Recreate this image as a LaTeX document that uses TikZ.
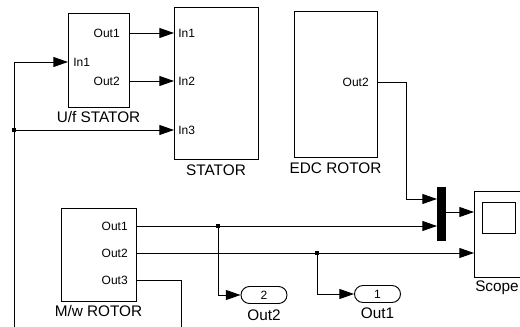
\documentclass[tikz,border=0pt]{standalone}
\usepackage{fontspec}
\setmainfont{Liberation Sans}
\usetikzlibrary{arrows.meta,positioning,shapes.misc}

\tikzset{
  blockbox/.style={draw, line width=0.7pt, inner sep=0pt},
  portlabel/.style={font=\fontsize{9}{10}\selectfont, inner sep=0pt},
  blocklabel/.style={font=\fontsize{11.5}{12}\selectfont, inner sep=0pt},
  termbox/.style={draw, line width=0.7pt, rounded rectangle, inner sep=0pt,
    minimum width=46*0.75pt, minimum height=17*0.75pt, font=\fontsize{9}{10}\selectfont},
  sig/.style={line width=0.7pt, -{Triangle[length=11pt,width=7.5pt]}},
  wire/.style={line width=0.7pt},
  tap/.style={fill, inner sep=0pt, minimum size=2.6pt}
}

\begin{document}
\begin{tikzpicture}[x=0.75pt,y=-0.75pt]
  \useasboundingbox (0,0) rectangle (520,327);

  % Blocks
  \node[blockbox, minimum width=61*0.75pt, minimum height=94*0.75pt] (uf) at (98.5,60) {};
  \node[blockbox, minimum width=84*0.75pt, minimum height=152*0.75pt] (stator) at (216,83) {};
  \node[blockbox, minimum width=83*0.75pt, minimum height=146*0.75pt] (edc) at (335.5,84) {};
  \node[blockbox, minimum width=75*0.75pt, minimum height=93*0.75pt] (mw) at (98.5,254.5) {};
  \node[blockbox, fill=black, minimum width=8*0.75pt, minimum height=53*0.75pt] (mux) at (441,213.5) {};
  \node[blockbox, minimum width=49*0.75pt, minimum height=86*0.75pt] (scope) at (498.5,234) {};
  \node[blockbox, minimum width=33*0.75pt, minimum height=31*0.75pt] (screen) at (498.5,217.5) {};
  \node[termbox] (term2) at (264,295) {2};
  \node[termbox] (term1) at (377.5,294) {1};

  % Block names
  \node[blocklabel] (uf-name) at (98.5,117) {U/f STATOR};
  \node[blocklabel] (stator-name) at (216,170.5) {STATOR};
  \node[blocklabel] (edc-name) at (335.5,168) {EDC ROTOR};
  \node[blocklabel] (mw-name) at (98.5,311) {M/w ROTOR};
  \node[blocklabel] (scope-name) at (497,288) {Scope};
  \node[blocklabel] (term2-name) at (264,315) {Out2};
  \node[blocklabel] (term1-name) at (377.5,313.5) {Out1};

  % Port labels
  \node[portlabel, anchor=west] (uf-in1-txt) at (73,62) {In1};
  \node[portlabel, anchor=east] (uf-o1-txt) at (120,33) {Out1};
  \node[portlabel, anchor=east] (uf-o2-txt) at (120,81) {Out2};
  \node[portlabel, anchor=west] (st-i1-txt) at (178,33) {In1};
  \node[portlabel, anchor=west] (st-i2-txt) at (178,81) {In2};
  \node[portlabel, anchor=west] (st-i3-txt) at (178,130) {In3};
  \node[portlabel, anchor=east] (edc-o2-txt) at (369,82) {Out2};
  \node[portlabel, anchor=east] (mw-o1-txt) at (128,226) {Out1};
  \node[portlabel, anchor=east] (mw-o2-txt) at (128,253) {Out2};
  \node[portlabel, anchor=east] (mw-o3-txt) at (128,280) {Out3};

  % Ports and bends
  \coordinate (uf-in1) at (68,62);
  \coordinate (uf-o1) at (129,33);
  \coordinate (uf-o2) at (129,81);
  \coordinate (st-i1) at (174,33);
  \coordinate (st-i2) at (174,81);
  \coordinate (st-i3) at (174,130);
  \coordinate (edc-o2) at (377,82);
  \coordinate (edc-bend) at (406,82);
  \coordinate (mux-i1) at (437,199);
  \coordinate (mux-i2) at (437,226);
  \coordinate (mux-o) at (445,212);
  \coordinate (scope-i1) at (474,212);
  \coordinate (scope-i2) at (474,253);
  \coordinate (mw-o1) at (136,226);
  \coordinate (mw-o2) at (136,253);
  \coordinate (mw-o3) at (136,280);
  \coordinate (mw-bend) at (181,280);
  \coordinate (left-top) at (14,62);
  \coordinate (left-bot) at (14,327);
  \coordinate (o3-bot) at (181,327);
  \node[tap] (tap-left) at (14,130) {};
  \node[tap] (tap-o1) at (218,226) {};
  \node[tap] (tap-o2) at (317,253) {};

  % Signals
  \draw[wire] (left-bot) -- (left-top);
  \draw[sig] (left-top) -- (uf-in1);
  \draw[sig] (tap-left.center) -- (st-i3);
  \draw[sig] (uf-o1) -- (st-i1);
  \draw[sig] (uf-o2) -- (st-i2);
  \draw[sig] (edc-o2) -- (edc-bend) |- (mux-i1);
  \draw[sig] (mw-o1) -- (mux-i2);
  \draw[sig] (mw-o2) -- (scope-i2);
  \draw[sig] (mux-o) -- (scope-i1);
  \draw[wire] (mw-o3) -- (mw-bend) -- (o3-bot);
  \draw[sig] (tap-o1.center) |- (term2.west);
  \draw[sig] (tap-o2.center) |- (term1.west);
\end{tikzpicture}
\end{document}
